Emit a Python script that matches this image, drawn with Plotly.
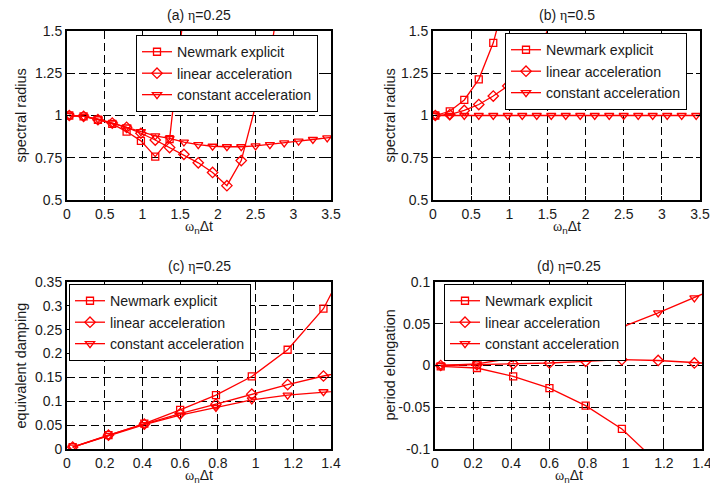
import plotly.graph_objects as go

# ---------------- data ----------------
x_ab = [0.03, 0.22, 0.41, 0.60, 0.79, 0.98, 1.17, 1.36, 1.55, 1.74,
        1.93, 2.12, 2.31, 2.50, 2.69, 2.88, 3.07, 3.26, 3.45, 3.64]
x_cd = [0.03, 0.22, 0.41, 0.60, 0.79, 0.98, 1.17, 1.36, 1.55]

a_newmark = [1.0, 0.995, 0.975, 0.95, 0.905, 0.85, 0.757, 0.86, 1.62]
a_linear = [1.0, 0.995, 0.975, 0.955, 0.93, 0.895, 0.855, 0.81, 0.77, 0.72,
            0.663, 0.585, 0.733, 1.058, 1.34, 1.9]
a_const = [1.0, 0.995, 0.98, 0.955, 0.932, 0.905, 0.88, 0.864, 0.843, 0.828,
           0.818, 0.815, 0.815, 0.82, 0.828, 0.838, 0.848, 0.858, 0.868, 0.878]

b_newmark = [1.0, 1.025, 1.092, 1.214, 1.43, 1.75]
b_linear = [1.0, 1.005, 1.03, 1.065, 1.115, 1.175, 1.25, 1.37, 1.55]
b_const = [1.0, 1.0, 1.0, 1.0, 1.0, 1.0, 1.0, 1.0, 1.0, 1.0,
           1.0, 1.0, 1.0, 1.0, 1.0, 1.0, 1.0, 1.0, 1.0, 1.0]

c_newmark = [0.004, 0.029, 0.053, 0.082, 0.113, 0.152, 0.208, 0.294, 0.44]
c_linear = [0.004, 0.029, 0.052, 0.074, 0.094, 0.115, 0.135, 0.153, 0.168]
c_const = [0.004, 0.028, 0.051, 0.071, 0.087, 0.103, 0.113, 0.12, 0.125]

d_newmark = [-0.001, -0.003, -0.013, -0.027, -0.048, -0.076, -0.117]
d_linear = [0.0, 0.001, 0.002, 0.003, 0.005, 0.007, 0.006, 0.003, 0.001]
d_const = [0.0, 0.002, 0.009, 0.017, 0.03, 0.046, 0.063, 0.081, 0.1]

series_names = ["Newmark explicit", "linear acceleration", "constant acceleration"]
panel_titles = ["(a) ", "(b) ", "(c) ", "(d) "]
panel_eta = ["=0.25", "=0.5", "=0.25", "=0.25"]
y_titles = ["spectral radius", "spectral radius", "equivalent damping", "period elongation"]

xt_ab = [0, 0.5, 1, 1.5, 2, 2.5, 3, 3.5]
xt_ab_text = ["0", "0.5", "1", "1.5", "2", "2.5", "3", "3.5"]
yt_ab = [0.5, 0.75, 1, 1.25, 1.5]
yt_ab_text = ["0.5", "0.75", "1", "1.25", "1.5"]
xt_cd = [0, 0.2, 0.4, 0.6, 0.8, 1, 1.2, 1.4]
xt_cd_text = ["0", "0.2", "0.4", "0.6", "0.8", "1", "1.2", "1.4"]
yt_c = [0, 0.05, 0.1, 0.15, 0.2, 0.25, 0.3, 0.35]
yt_c_text = ["0", "0.05", "0.1", "0.15", "0.2", "0.25", "0.3", "0.35"]
yt_d = [-0.1, -0.05, 0, 0.05, 0.1]
yt_d_text = ["-0.1", "-0.05", "0", "0.05", "0.1"]

# ---------------- layout helpers ----------------
W, H = 710, 491
RED = "#ff0000"
TXT = "#1a1a1a"
FONT = "Liberation Sans, Arial, sans-serif"

# plot boxes in pixels: (left, right, top, bottom)
boxes = [(67, 331, 31, 200), (433, 700, 31, 200), (67, 331, 282, 449), (435, 702, 282, 449)]
legend_pos = [(136, 35), (505, 33), (69, 284), (444, 284)]

fig = go.Figure()

symbols = ["square-open", "diamond-open", "triangle-down-open"]
msizes = [7, 8, 8]

panels = [
    (x_ab, [a_newmark, a_linear, a_const]),
    (x_ab, [b_newmark, b_linear, b_const]),
    (x_cd, [c_newmark, c_linear, c_const]),
    (x_cd, [d_newmark, d_linear, d_const]),
]

for p, (xs, ys_list) in enumerate(panels):
    xa = "x" if p == 0 else f"x{p+1}"
    ya = "y" if p == 0 else f"y{p+1}"
    lg = "legend" if p == 0 else f"legend{p+1}"
    for s, ys in enumerate(ys_list):
        fig.add_trace(go.Scatter(
            x=xs[:len(ys)], y=ys, mode="lines+markers", name=series_names[s],
            xaxis=xa, yaxis=ya, legend=lg,
            line=dict(color=RED, width=1.3),
            marker=dict(symbol=symbols[s], size=msizes[s], color=RED,
                        line=dict(color=RED, width=1.3)),
            cliponaxis=True,
        ))

axis_common = dict(
    showline=True, linecolor="black", linewidth=2, mirror="ticks",
    ticks="inside", ticklen=4, tickwidth=1, tickcolor="black",
    showgrid=True, gridcolor="black", gridwidth=0.9, griddash="8px,4px",
    zeroline=False, tickfont=dict(family=FONT, size=14, color=TXT),
    fixedrange=True, automargin=False, ticklabeloverflow="allow",
)

ranges = [
    ((0, 3.5), xt_ab, xt_ab_text, (0.5, 1.5), yt_ab, yt_ab_text),
    ((0, 3.5), xt_ab, xt_ab_text, (0.5, 1.5), yt_ab, yt_ab_text),
    ((0, 1.4), xt_cd, xt_cd_text, (0, 0.35), yt_c, yt_c_text),
    ((0, 1.4), xt_cd, xt_cd_text, (-0.1, 0.1), yt_d, yt_d_text),
]

layout = dict(
    width=W, height=H, margin=dict(l=0, r=0, t=0, b=0, pad=0, autoexpand=False),
    paper_bgcolor="white", plot_bgcolor="white",
    font=dict(family=FONT, color=TXT), showlegend=True,
)
annotations = []
for p, (l, r, t, b) in enumerate(boxes):
    xr, xtv, xtt, yr, ytv, ytt = ranges[p]
    xkey = "xaxis" if p == 0 else f"xaxis{p+1}"
    ykey = "yaxis" if p == 0 else f"yaxis{p+1}"
    xa = "x" if p == 0 else f"x{p+1}"
    ya = "y" if p == 0 else f"y{p+1}"
    layout[xkey] = dict(axis_common, domain=[l / W, r / W], range=list(xr),
                        tickvals=xtv, ticktext=xtt, anchor=ya)
    layout[ykey] = dict(axis_common, domain=[1 - b / H, 1 - t / H], range=list(yr),
                        tickvals=ytv, ticktext=ytt, anchor=xa)
    lx, ly = legend_pos[p]
    lkey = "legend" if p == 0 else f"legend{p+1}"
    layout[lkey] = dict(
        x=lx / W, y=1 - ly / H, xanchor="left", yanchor="top",
        xref="paper", yref="paper",
        bgcolor="white", bordercolor="black", borderwidth=1,
        font=dict(family=FONT, size=14.2, color=TXT),
        itemwidth=30, tracegroupgap=0,
    )
    cx = (l + r) / 2
    # subplot title
    annotations.append(dict(
        x=cx / W, y=1 - (t - 16) / H, xref="paper", yref="paper",
        text=panel_titles[p] + "<span style='font-family:Liberation Serif'>η</span>" + panel_eta[p],
        showarrow=False, font=dict(family=FONT, size=14, color=TXT),
        xanchor="center", yanchor="middle"))
    # x title
    annotations.append(dict(
        x=cx / W, y=1 - (b + 27) / H, xref="paper", yref="paper",
        text="<span style='font-family:Liberation Serif'>ω</span><sub>n</sub>Δt",
        showarrow=False, font=dict(family=FONT, size=14, color=TXT),
        xanchor="center", yanchor="middle"))
    # y title
    ytx = 20 if p in (0, 2) else 389
    annotations.append(dict(
        x=ytx / W, y=1 - ((t + b) / 2) / H, xref="paper", yref="paper",
        text=y_titles[p], textangle=-90,
        showarrow=False, font=dict(family=FONT, size=14.5, color=TXT),
        xanchor="center", yanchor="middle"))

layout["annotations"] = annotations
fig.update_layout(**layout)
fig.write_html(
    "out.html",
    config={"responsive": False, "displayModeBar": False},
    post_script="document.body.style.margin='0px';document.body.style.overflow='hidden';",
)
